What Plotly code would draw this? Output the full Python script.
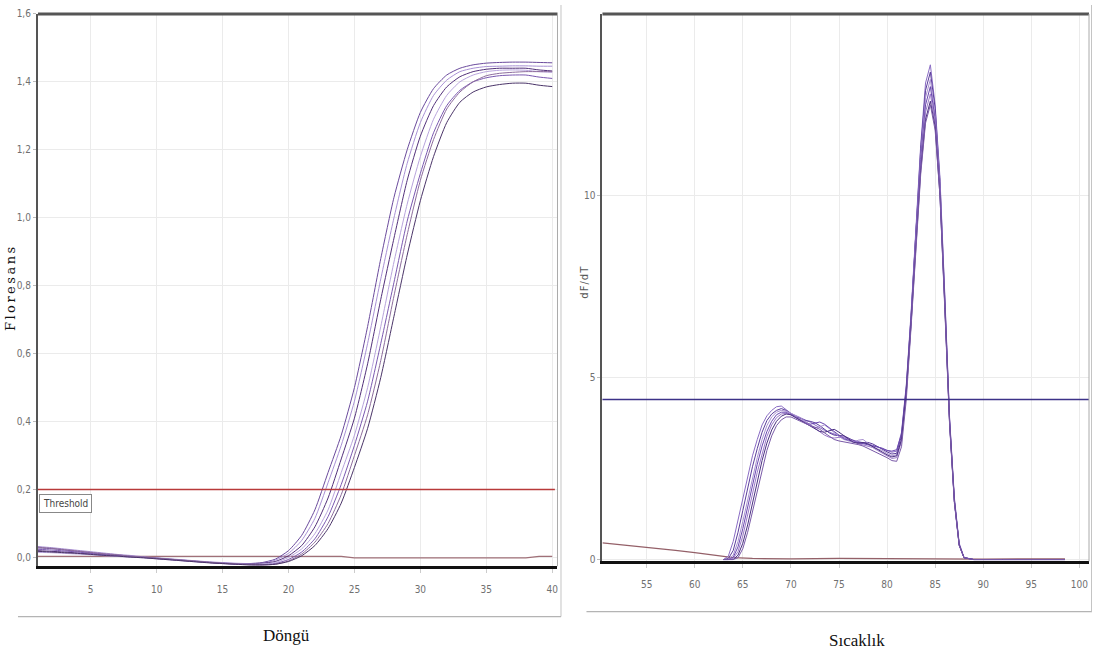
import plotly.graph_objects as go

W, H = 1097, 664

# ---------------- Amplification data (left) ----------------
cycles = list(range(1, 41))
amp_a = [0.028, 0.026, 0.022, 0.018, 0.014, 0.010, 0.007, 0.004, 0.001, -0.002, -0.005, -0.008, -0.011, -0.014, -0.016, -0.018, -0.018, -0.015,
         -0.005, 0.02, 0.065, 0.14, 0.25, 0.36, 0.5, 0.68, 0.88, 1.06, 1.2, 1.31, 1.38, 1.42, 1.44, 1.45, 1.455, 1.457, 1.458, 1.458, 1.457, 1.456]
amp_b = [0.032, 0.029, 0.025, 0.021, 0.017, 0.013, 0.009, 0.006, 0.002, -0.001, -0.004, -0.007, -0.010, -0.013, -0.015, -0.017, -0.018, -0.017,
         -0.008, 0.012, 0.05, 0.115, 0.22, 0.33, 0.46, 0.63, 0.82, 1.0, 1.16, 1.28, 1.36, 1.405, 1.43, 1.44, 1.445, 1.446, 1.447, 1.447, 1.446, 1.446]
amp_c = [0.020, 0.018, 0.016, 0.013, 0.010, 0.007, 0.004, 0.002, 0.000, -0.003, -0.006, -0.009, -0.012, -0.015, -0.017, -0.019, -0.019, -0.017,
         -0.012, 0.005, 0.035, 0.09, 0.175, 0.29, 0.41, 0.57, 0.76, 0.94, 1.11, 1.24, 1.33, 1.385, 1.415, 1.43, 1.437, 1.44, 1.44, 1.44, 1.435, 1.432]
amp_d = [0.015, 0.014, 0.012, 0.010, 0.008, 0.005, 0.003, 0.001, -0.001, -0.004, -0.007, -0.010, -0.013, -0.015, -0.017, -0.019, -0.020, -0.019,
         -0.015, 0.0, 0.025, 0.07, 0.14, 0.25, 0.36, 0.5, 0.68, 0.87, 1.04, 1.18, 1.29, 1.36, 1.40, 1.42, 1.43, 1.434, 1.435, 1.434, 1.43, 1.428]
amp_e = [0.024, 0.022, 0.019, 0.016, 0.012, 0.009, 0.006, 0.003, 0.000, -0.003, -0.006, -0.009, -0.012, -0.015, -0.018, -0.020, -0.021, -0.021,
         -0.018, -0.006, 0.016, 0.055, 0.12, 0.215, 0.33, 0.46, 0.63, 0.81, 0.99, 1.13, 1.25, 1.33, 1.375, 1.40, 1.412, 1.418, 1.42, 1.42, 1.414, 1.41]
amp_f = [0.030, 0.027, 0.023, 0.019, 0.015, 0.011, 0.008, 0.004, 0.001, -0.002, -0.005, -0.008, -0.011, -0.014, -0.017, -0.019, -0.021, -0.022,
         -0.02, -0.01, 0.01, 0.045, 0.1, 0.185, 0.3, 0.42, 0.58, 0.77, 0.95, 1.11, 1.23, 1.32, 1.37, 1.40, 1.418, 1.425, 1.428, 1.43, 1.43, 1.43]
amp_g = [0.018, 0.016, 0.014, 0.012, 0.009, 0.006, 0.004, 0.001, -0.001, -0.004, -0.007, -0.010, -0.013, -0.016, -0.018, -0.020, -0.022, -0.022,
         -0.02, -0.012, 0.005, 0.035, 0.085, 0.16, 0.265, 0.38, 0.53, 0.71, 0.89, 1.05, 1.18, 1.28, 1.34, 1.37, 1.385, 1.392, 1.396, 1.396, 1.39, 1.386]
amp_ntc = [0.003] * 24 + [-0.001] * 14 + [0.003] * 2
threshold = 0.2

amp_series = [amp_a, amp_b, amp_c, amp_d, amp_e, amp_f, amp_g]
amp_colors = ["#6a4a9c", "#a890d4", "#52307a", "#b8a4dc", "#7a58b0", "#8c6c9c", "#4a3468"]

x1_ticks = [5, 10, 15, 20, 25, 30, 35, 40]
y1_ticks = [0.0, 0.2, 0.4, 0.6, 0.8, 1.0, 1.2, 1.4, 1.6]

# ---------------- Melt data (right) ----------------
temps = [63.0, 63.5, 64.0, 64.5, 65.0, 65.5, 66.0, 66.5, 67.0, 67.5, 68.0, 68.5, 69.0, 69.5, 70.0, 70.5,
         71.0, 71.5, 72.0, 72.5, 73.0, 73.5, 74.0, 74.5, 75.0, 75.5, 76.0, 76.5, 77.0, 77.5, 78.0, 78.5,
         79.0, 79.5, 80.0, 80.5, 81.0, 81.5, 82.0, 82.5, 83.0, 83.5, 84.0, 84.5, 85.0, 85.5, 86.0, 86.5,
         87.0, 87.5, 88.0, 89.0, 92.0, 95.0, 98.5]
melt_1 = [0.0, 0.1, 0.5, 1.1, 1.7, 2.3, 2.85, 3.3, 3.7, 3.95, 4.1, 4.2, 4.22, 4.12, 4.02, 3.95,
          3.9, 3.85, 3.78, 3.7, 3.62, 3.55, 3.5, 3.45, 3.4, 3.35, 3.3, 3.28, 3.25, 3.22, 3.18, 3.14,
          3.1, 3.06, 3.0, 2.95, 2.98, 3.5, 4.8, 6.8, 9.2, 11.4, 13.1, 13.6, 12.5, 10.5, 7.3, 3.9,
          1.7, 0.45, 0.06, 0.0, 0.0, 0.0, 0.0]
melt_2 = [0.0, 0.03, 0.25, 0.75, 1.35, 1.95, 2.55, 3.05, 3.5, 3.82, 4.0, 4.1, 4.15, 4.1, 4.0, 3.92,
          3.88, 3.82, 3.8, 3.76, 3.68, 3.58, 3.48, 3.42, 3.42, 3.4, 3.34, 3.26, 3.2, 3.2, 3.22, 3.18,
          3.1, 3.02, 2.96, 2.9, 2.92, 3.4, 4.7, 6.7, 9.1, 11.3, 12.9, 13.4, 12.4, 10.4, 7.2, 3.85,
          1.65, 0.42, 0.05, 0.0, 0.0, 0.0, 0.0]
melt_3 = [0.0, 0.0, 0.12, 0.5, 1.05, 1.65, 2.25, 2.8, 3.3, 3.68, 3.92, 4.05, 4.1, 4.08, 4.02, 3.96,
          3.9, 3.8, 3.7, 3.62, 3.65, 3.7, 3.6, 3.48, 3.38, 3.3, 3.25, 3.22, 3.28, 3.3, 3.2, 3.1,
          3.04, 3.0, 2.92, 2.85, 2.88, 3.3, 4.6, 6.6, 9.0, 11.1, 12.7, 13.2, 12.2, 10.3, 7.1, 3.8,
          1.6, 0.4, 0.05, 0.0, 0.0, 0.0, 0.0]
melt_4 = [0.0, 0.0, 0.06, 0.35, 0.85, 1.45, 2.05, 2.62, 3.12, 3.52, 3.8, 3.98, 4.05, 4.05, 3.98, 3.9,
          3.82, 3.76, 3.72, 3.75, 3.78, 3.72, 3.62, 3.5, 3.4, 3.32, 3.28, 3.25, 3.22, 3.18, 3.14, 3.12,
          3.1, 3.06, 3.0, 2.98, 3.02, 3.45, 4.75, 6.7, 9.0, 11.0, 12.5, 13.0, 12.1, 10.2, 7.1, 3.8,
          1.6, 0.4, 0.05, 0.0, 0.0, 0.0, 0.0]
melt_5 = [0.0, 0.0, 0.03, 0.22, 0.65, 1.2, 1.8, 2.4, 2.92, 3.38, 3.7, 3.9, 4.0, 4.02, 3.98, 3.92,
          3.85, 3.78, 3.7, 3.6, 3.5, 3.42, 3.36, 3.34, 3.36, 3.38, 3.32, 3.24, 3.18, 3.15, 3.12, 3.08,
          3.0, 2.92, 2.84, 2.78, 2.8, 3.25, 4.55, 6.5, 8.8, 10.8, 12.3, 12.8, 12.0, 10.1, 7.0, 3.75,
          1.6, 0.4, 0.05, 0.0, 0.0, 0.0, 0.0]
melt_6 = [0.0, 0.0, 0.0, 0.12, 0.45, 0.95, 1.55, 2.15, 2.72, 3.2, 3.56, 3.8, 3.94, 4.0, 3.98, 3.9,
          3.82, 3.74, 3.66, 3.58, 3.52, 3.5, 3.55, 3.58, 3.5, 3.4, 3.3, 3.22, 3.2, 3.22, 3.18, 3.1,
          3.02, 2.95, 2.88, 2.82, 2.85, 3.3, 4.6, 6.5, 8.7, 10.7, 12.1, 12.6, 11.9, 10.0, 7.0, 3.75,
          1.6, 0.4, 0.05, 0.0, 0.0, 0.0, 0.0]
melt_7 = [0.0, 0.0, 0.0, 0.05, 0.3, 0.75, 1.32, 1.92, 2.5, 3.0, 3.4, 3.68, 3.84, 3.92, 3.92, 3.86,
          3.78, 3.72, 3.68, 3.64, 3.58, 3.48, 3.38, 3.3, 3.26, 3.24, 3.2, 3.18, 3.16, 3.12, 3.06, 3.0,
          2.94, 2.88, 2.8, 2.72, 2.7, 3.1, 4.4, 6.4, 8.6, 10.6, 12.0, 12.5, 11.8, 10.0, 6.9, 3.7,
          1.55, 0.38, 0.05, 0.0, 0.0, 0.0, 0.0]
ntc_temps = [50.4, 52.0, 54.0, 56.0, 58.0, 60.0, 62.0, 64.0, 66.0, 70.0, 75.0, 80.0, 85.0, 90.0, 95.0, 98.5]
melt_ntc = [0.46, 0.42, 0.37, 0.31, 0.25, 0.19, 0.11, 0.05, 0.03, 0.02, 0.03, 0.02, 0.03, 0.01, 0.02, 0.02]
melt_threshold = 4.4

melt_series = [melt_1, melt_2, melt_3, melt_4, melt_5, melt_6, melt_7]
melt_colors = ["#8a6cc4", "#5a3c9a", "#a890d0", "#6a48b0", "#9a78c8", "#4a3080", "#7a5aa8"]

x2_ticks = [55, 60, 65, 70, 75, 80, 85, 90, 95, 100]
y2_ticks = [0, 5, 10]

# ---------------- Geometry (pixels) ----------------
def px(x):
    return x / W

def py(y):
    return 1 - y / H

L1, R1, T1, B1 = 38, 558, 9, 569
L2, R2, T2, B2 = 603, 1090, 9, 564

tick_font = dict(family="DejaVu Sans Condensed, Liberation Sans Narrow, Arial Narrow, sans-serif", size=10, color="#707070")

fig = go.Figure()

fig.add_trace(go.Scatter(x=cycles, y=amp_ntc, mode="lines", line=dict(color="#a07078", width=1.2),
                         xaxis="x", yaxis="y", hoverinfo="skip"))
for vals, col in zip(amp_series, amp_colors):
    fig.add_trace(go.Scatter(x=cycles, y=vals, mode="lines",
                             line=dict(color=col, width=1.0, shape="spline", smoothing=0.6),
                             xaxis="x", yaxis="y", hoverinfo="skip"))

fig.add_trace(go.Scatter(x=ntc_temps, y=melt_ntc, mode="lines", line=dict(color="#946068", width=1.2),
                         xaxis="x2", yaxis="y2", hoverinfo="skip"))
for vals, col in zip(melt_series, melt_colors):
    fig.add_trace(go.Scatter(x=temps, y=vals, mode="lines",
                             line=dict(color=col, width=1.0),
                             xaxis="x2", yaxis="y2", hoverinfo="skip"))

grid = "#ebebeb"
fig.update_layout(
    width=W, height=H,
    margin=dict(l=0, r=0, t=0, b=0),
    paper_bgcolor="white", plot_bgcolor="white",
    showlegend=False, hovermode=False,
    separators=",.",
    xaxis=dict(domain=[px(L1), px(R1)], range=[1, 40.4], tickvals=x1_ticks,
               showgrid=True, gridcolor=grid, gridwidth=1, zeroline=False,
               showline=True, linecolor="#111111", linewidth=3,
               ticks="outside", ticklen=4, tickcolor="#cccccc", tickfont=tick_font,
               ticklabelstandoff=8, anchor="y", fixedrange=True),
    yaxis=dict(domain=[py(B1), py(T1)], range=[-0.026, 1.6], tickvals=y1_ticks, tickformat=".1f",
               showgrid=True, gridcolor=grid, gridwidth=1, zeroline=False,
               showline=True, linecolor="#555555", linewidth=2,
               ticks="outside", ticklen=3, tickcolor="#bbbbbb", tickfont=tick_font,
               anchor="x", fixedrange=True),
    xaxis2=dict(domain=[px(L2), px(R2)], range=[50.4, 101.0], tickvals=x2_ticks,
                showgrid=True, gridcolor=grid, gridwidth=1, zeroline=False,
                showline=True, linecolor="#111111", linewidth=3,
                ticks="outside", ticklen=4, tickcolor="#cccccc", tickfont=tick_font,
                ticklabelstandoff=8, anchor="y2", fixedrange=True),
    yaxis2=dict(domain=[py(B2), py(T2)], range=[-0.05, 15], tickvals=y2_ticks,
                showgrid=True, gridcolor=grid, gridwidth=1, zeroline=False,
                showline=True, linecolor="#555555", linewidth=2,
                ticks="outside", ticklen=3, tickcolor="#bbbbbb", tickfont=tick_font,
                anchor="x2", fixedrange=True),
)

shapes = [
    # threshold lines (data coordinates)
    dict(type="line", xref="x domain", yref="y", x0=0, x1=0.995, y0=threshold, y1=threshold,
         line=dict(color="#b83a3a", width=1.5), layer="above"),
    dict(type="line", xref="x2 domain", yref="y2", x0=0, x1=1, y0=melt_threshold, y1=melt_threshold,
         line=dict(color="#3c3288", width=1.5), layer="above"),
    # plot borders
    dict(type="line", xref="paper", yref="paper", x0=px(L1), x1=px(R1), y0=py(T1), y1=py(T1),
         line=dict(color="#555555", width=3)),
    dict(type="line", xref="paper", yref="paper", x0=px(R1), x1=px(R1), y0=py(T1), y1=py(B1),
         line=dict(color="#aaaaaa", width=1)),
    dict(type="line", xref="paper", yref="paper", x0=px(L2), x1=px(R2), y0=py(T2), y1=py(T2),
         line=dict(color="#555555", width=3)),
    dict(type="line", xref="paper", yref="paper", x0=px(R2), x1=px(R2), y0=py(T2), y1=py(B2),
         line=dict(color="#aaaaaa", width=1)),
    # outer panel frames
    dict(type="line", xref="paper", yref="paper", x0=px(561.5), x1=px(561.5), y0=1, y1=py(620),
         line=dict(color="#c4c4c4", width=1)),
    dict(type="line", xref="paper", yref="paper", x0=px(18), x1=px(561.5), y0=py(620), y1=py(620),
         line=dict(color="#b4b4b4", width=1.2)),
    dict(type="line", xref="paper", yref="paper", x0=px(587), x1=px(1093), y0=py(615), y1=py(615),
         line=dict(color="#b4b4b4", width=1.2)),
    dict(type="line", xref="paper", yref="paper", x0=px(1092.5), x1=px(1092.5), y0=1, y1=py(615),
         line=dict(color="#c4c4c4", width=1)),
]
fig.update_layout(shapes=shapes)

annotations = [
    dict(text="Threshold", xref="x", yref="y", x=1, y=threshold, xanchor="left", yanchor="top",
         yshift=-4, xshift=1, showarrow=False,
         font=dict(family="DejaVu Sans Condensed, Liberation Sans Narrow, sans-serif", size=10, color="#444444"),
         bordercolor="#888888", borderwidth=1, borderpad=3, bgcolor="white"),
    dict(text='<span style="letter-spacing:2.5px">Floresans</span>', xref="paper", yref="paper",
         x=px(10), y=py(286), textangle=-90,
         showarrow=False, xanchor="center", yanchor="middle",
         font=dict(family="DejaVu Serif, serif", size=13, color="#111111")),
    dict(text="Döngü", xref="paper", yref="paper", x=px(287), y=py(639),
         showarrow=False, xanchor="center", yanchor="middle",
         font=dict(family="Liberation Serif, serif", size=17, color="#111111")),
    dict(text='<span style="letter-spacing:1px">dF/dT</span>', xref="paper", yref="paper",
         x=px(585), y=py(281), textangle=-90,
         showarrow=False, xanchor="center", yanchor="middle",
         font=dict(family="DejaVu Sans, sans-serif", size=10, color="#555555")),
    dict(text="Sıcaklık", xref="paper", yref="paper", x=px(858), y=py(644),
         showarrow=False, xanchor="center", yanchor="middle",
         font=dict(family="Liberation Serif, serif", size=17, color="#111111")),
]
fig.update_layout(annotations=annotations)

fig.write_html("out.html", config={"displayModeBar": False, "staticPlot": True})
